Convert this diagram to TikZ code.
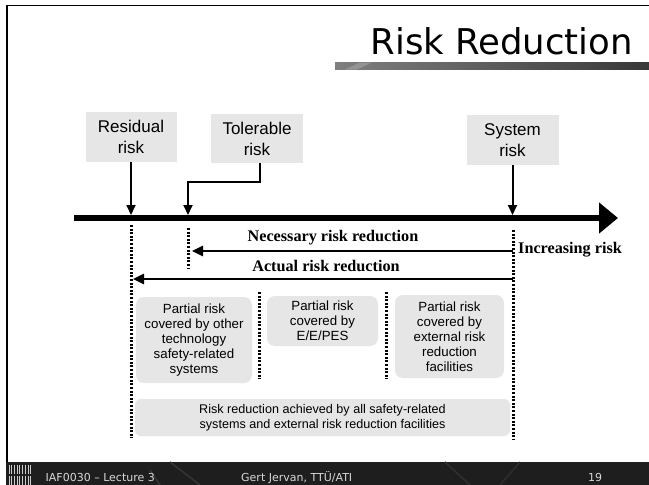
\documentclass[tikz,border=0pt]{standalone}
\usepackage{fontspec}
\setmainfont{Liberation Sans}
\newfontfamily\titlefont{DejaVu Sans}
\newfontfamily\serifb{Liberation Serif}
\usetikzlibrary{arrows.meta}
\definecolor{boxgray}{HTML}{E6E6E6}
\definecolor{footbg}{HTML}{1E1E1E}
\definecolor{foottxt}{HTML}{D8D8D8}
\tikzset{
  topbox/.style={draw=none, fill=boxgray, inner sep=0pt, align=center,
    font=\fontsize{17}{21}\selectfont},
  partbox/.style={draw=none, fill=boxgray, rounded corners=8pt, inner sep=0pt, align=center,
    font=\fontsize{13.3}{15}\selectfont},
  downarr/.style={line width=2pt, -{Triangle[length=10pt,width=9pt]}},
  redarr/.style={line width=2.5pt, -{Triangle[length=11pt,width=10pt]}},
  dotline/.style={line width=3pt, dash pattern=on 2pt off 1.6pt},
  boldlbl/.style={inner sep=0pt, font=\serifb\bfseries\fontsize{16.2}{18}\selectfont},
  foottext/.style={inner sep=0pt, anchor=base west, text=foottxt, font=\titlefont\fontsize{11}{12}\selectfont},
}
\begin{document}
\begin{tikzpicture}[x=1pt,y=-1pt]
\useasboundingbox (0,0) rectangle (649,485);
\fill[white] (0,0) rectangle (649,485);
% frame
\draw[line width=1.5pt] (6,5.5) -- (649,5.5);
\draw[line width=2.5pt] (7,4.75) -- (7,462);
% title
\node[inner sep=0pt, anchor=base east, font=\titlefont\fontsize{35.5}{40}\selectfont] (title) at (633,54) {Risk Reduction};
\shade[left color=black!50, right color=black!78] (335,62.5) rectangle (649,69.5);
\fill[white, opacity=0.2] (345,69.5) -- (360,62.5) -- (372,62.5) -- (357,69.5) -- cycle;
% top boxes
\node[topbox, minimum width=91pt, minimum height=50pt] (residual) at (131,137) {Residual\\risk};
\node[topbox, minimum width=92pt, minimum height=49pt] (tolerable) at (257,138.5) {Tolerable\\risk};
\node[topbox, minimum width=92pt, minimum height=50pt] (system) at (512.5,140) {System\\risk};
% axis
\coordinate (axl) at (74,218);
\coordinate (axr) at (618,218);
\draw[line width=6pt, -{Triangle[length=19pt,width=30pt]}] (axl) -- (axr);
\coordinate (rx) at (131,215);
\coordinate (tx) at (188,215);
\coordinate (sx) at (512.5,215);
\draw[downarr] (residual.south) -- (rx);
\draw[downarr] ([xshift=3pt]tolerable.south) |- (188,182) -- (tx);
\draw[downarr] (system.south) -- (sx);
% dotted lines
\coordinate (dres1) at (131,225); \coordinate (dres2) at (131,438);
\coordinate (dtol1) at (188,228); \coordinate (dtol2) at (188,268);
\coordinate (dsys1) at (513,230); \coordinate (dsys2) at (513,440);
\coordinate (dm11) at (259,292); \coordinate (dm12) at (259,379);
\coordinate (dm21) at (386,292); \coordinate (dm22) at (386,379);
\draw[dotline] (dres1) -- (dres2);
\draw[dotline] (dtol1) -- (dtol2);
\draw[dotline] (dsys1) -- (dsys2);
\draw[dotline] (dm11) -- (dm12);
\draw[dotline] (dm21) -- (dm22);
% reduction arrows
\coordinate (nr) at (513,251); \coordinate (nl) at (192,251);
\coordinate (ar) at (513,279); \coordinate (al) at (133,279);
\draw[redarr] (nr) -- (nl);
\draw[redarr] (ar) -- (al);
\node[boldlbl, anchor=base] (neclbl) at (333,241) {Necessary risk reduction};
\node[boldlbl, anchor=base] (actlbl) at (326,271) {Actual risk reduction};
\node[boldlbl, anchor=base west] (inclbl) at (518,253) {Increasing risk};
% partial boxes
\node[partbox, minimum width=116pt, minimum height=86pt] (b1) at (194,340) {Partial risk\\covered by other\\technology\\safety-related\\systems};
\node[partbox, minimum width=111pt, minimum height=50pt] (b2) at (322.5,321) {Partial risk\\covered by\\E/E/PES};
\node[partbox, minimum width=109pt, minimum height=83pt] (b3) at (449.5,336.5) {Partial risk\\covered by\\external risk\\reduction\\facilities};
\node[partbox, font=\fontsize{12.6}{15}\selectfont, rounded corners=6pt, minimum width=375pt, minimum height=37pt] (b4) at (322.5,417.5) {Risk reduction achieved by all safety-related\\systems and external risk reduction facilities};
% footer
\fill[footbg] (6,462) rectangle (649,485);
\draw[white!10!footbg, line width=1.5pt] (170,462) -- (200,485);
\draw[white!10!footbg, line width=1.5pt] (150,470) -- (160,485);
\draw[white!8!footbg, line width=1.5pt] (445,462) -- (470,485);
\draw[white!7!footbg, line width=1.5pt] (520,462) -- (500,485);
\foreach \xx in {9,11.5,14,17,19.5,22.5,25,28,30.5} {
  \draw[white!80!black, line width=0.8pt] (\xx,465) -- (\xx,474);
  \draw[white!80!black, line width=0.8pt] (\xx,476) -- (\xx,485);
}
\node[foottext] (f1) at (45.5,481.5) {IAF0030 – Lecture 3};
\node[foottext] (f2) at (241,481.5) {Gert Jervan, TTÜ/ATI};
\node[foottext] (f3) at (588,481.5) {19};
\end{tikzpicture}
\end{document}
